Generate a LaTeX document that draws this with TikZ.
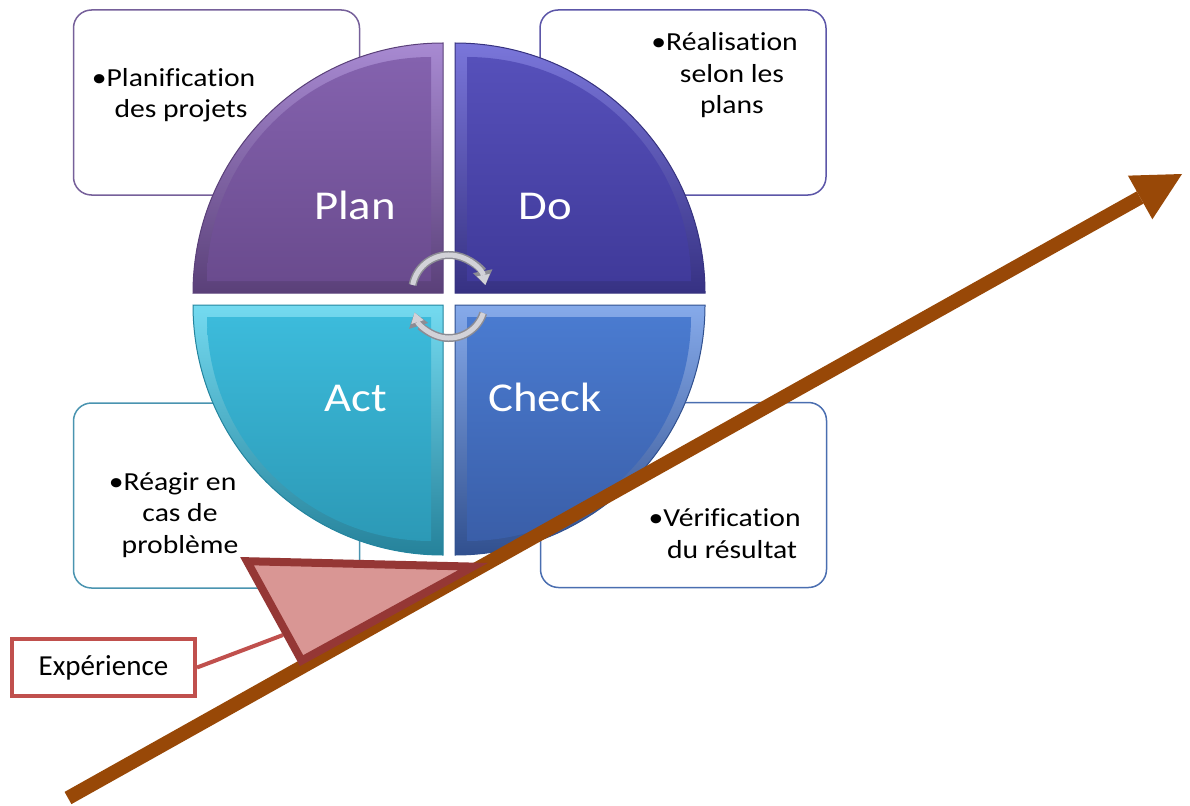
\documentclass[tikz,border=0pt]{standalone}
\usepackage{fontspec}
\setmainfont{Carlito}[Ligatures=NoCommon]
\newfontfamily\smartfont[FakeStretch=1.14,Ligatures=NoCommon]{Carlito}
\usetikzlibrary{arrows.meta}
\definecolor{planbev}{HTML}{A88AD2}
\definecolor{plantop}{HTML}{8462AE}
\definecolor{planbot}{HTML}{6A4B8E}
\definecolor{planout}{HTML}{5A4079}
\definecolor{dobev}{HTML}{7A76DA}
\definecolor{dotop}{HTML}{5650BA}
\definecolor{dobot}{HTML}{403A9A}
\definecolor{doout}{HTML}{36327F}
\definecolor{actbev}{HTML}{74DAF0}
\definecolor{acttop}{HTML}{3CBBDB}
\definecolor{actbot}{HTML}{2C99B6}
\definecolor{actout}{HTML}{23849E}
\definecolor{chkbev}{HTML}{86AAEA}
\definecolor{chktop}{HTML}{4A7BD0}
\definecolor{chkbot}{HTML}{3A5EA8}
\definecolor{chkout}{HTML}{30508F}
\definecolor{bxplan}{HTML}{76609A}
\definecolor{bxdo}{HTML}{5C56A8}
\definecolor{bxact}{HTML}{4A94B0}
\definecolor{bxchk}{HTML}{4A6EB0}
\definecolor{arrbrown}{HTML}{984807}
\definecolor{expred}{HTML}{C0504D}
\definecolor{wedgefill}{HTML}{D99694}
\definecolor{wedgeline}{HTML}{953735}
\definecolor{cycdark}{HTML}{8C8C94}
\definecolor{cyclight}{HTML}{D2D2D8}
\begin{document}
\begin{tikzpicture}[x=1pt,y=-1pt,
  infobox/.style={draw=#1, line width=1.5pt, rounded corners=18pt, fill=white,
    inner sep=0pt, minimum width=286pt, minimum height=185pt},
  boxtext/.style={font=\smartfont\fontsize{26}{31.5}\selectfont, align=center,
    inner sep=0pt, anchor=base},
  biglabel/.style={font=\smartfont\fontsize{41}{44}\selectfont, text=white,
    inner sep=0pt, anchor=base},
  expbox/.style={draw=expred, line width=4pt, fill=white, minimum width=183pt,
    minimum height=57pt, inner sep=0pt, font=\fontsize{29}{34}\selectfont},
  exline/.style={draw=expred, line width=4pt},
  bigarrow/.style={draw=arrbrown, line width=14pt,
    -{Triangle[length=48pt,width=50pt,line width=0pt]}},
  wedgeshape/.style={draw=wedgeline, fill=wedgefill, line width=8pt},
  cycout/.style={draw=cycdark, line width=8pt,
    -{Triangle[length=14pt,width=20pt,line width=0pt]}},
  cycin/.style={draw=cyclight, line width=5pt,
    -{Triangle[length=10pt,width=13pt,line width=0pt]}}
]
\useasboundingbox (0,0) rectangle (1190,805);

% text boxes
\node[infobox=bxplan] (bPlan) at (216.5,102.5) {};
\node[infobox=bxdo] (bDo) at (683,102.5) {};
\node[infobox=bxact] (bAct) at (216.5,495.5) {};
\node[infobox=bxchk] (bCheck) at (683.5,495) {};

\node[boxtext] (tPlan) at (181,118) {\llap{•}Planification\\des projets};
\node[boxtext] (tDo) at (732,114) {\llap{•}Réalisation\\selon les\\plans};
\node[boxtext] (tAct) at (180,553) {\llap{•}Réagir en\\cas de\\problème};
\node[boxtext] (tCheck) at (732,558) {\llap{•}Vérification\\du résultat};

% quadrants
\path[top color=planbev, bottom color=planbot!85!black, draw=planout, line width=1pt]
  (443,293) -- ++(-250,0) arc[start angle=180,end angle=270,radius=250] -- cycle;
\path[top color=plantop, bottom color=planbot]
  (431,281) -- ++(-224,0) arc[start angle=180,end angle=270,radius=224] -- cycle;

\path[top color=dobev, bottom color=dobot!85!black, draw=doout, line width=1pt]
  (455,293) -- ++(0,-250) arc[start angle=270,end angle=360,radius=250] -- cycle;
\path[top color=dotop, bottom color=dobot]
  (467,281) -- ++(0,-224) arc[start angle=270,end angle=360,radius=224] -- cycle;

\path[top color=chkbev, bottom color=chkbot!85!black, draw=chkout, line width=1pt]
  (455,305) -- ++(250,0) arc[start angle=0,end angle=90,radius=250] -- cycle;
\path[top color=chktop, bottom color=chkbot]
  (467,317) -- ++(224,0) arc[start angle=0,end angle=90,radius=224] -- cycle;

\path[top color=actbev, bottom color=actbot!85!black, draw=actout, line width=1pt]
  (443,305) -- ++(0,250) arc[start angle=90,end angle=180,radius=250] -- cycle;
\path[top color=acttop, bottom color=actbot]
  (431,317) -- ++(0,224) arc[start angle=90,end angle=180,radius=224] -- cycle;

\node[biglabel] (lPlan) at (355,219) {Plan};
\node[biglabel] (lDo) at (545,219) {Do};
\node[biglabel] (lAct) at (356,411) {Act};
\node[biglabel] (lCheck) at (545,411) {Check};

% cycle arrows
\coordinate (cTop) at (449,292);
\coordinate (cBot) at (449,302);
\draw[cycout] (cTop) ++(191:37) arc[start angle=191,end angle=349,radius=37];
\draw[cycin] (cTop) ++(191:37) arc[start angle=191,end angle=349,radius=37];
\draw[cycout] (cBot) ++(18:36) arc[start angle=18,end angle=163,radius=36];
\draw[cycin] (cBot) ++(18:36) arc[start angle=18,end angle=163,radius=36];

% experience
\node[expbox] (exp) at (103.5,667.5) {Expérience};
\coordinate (expEnd) at (283,635);
\draw[exline] (exp.east) -- (expEnd);

% big arrow
\coordinate (arrS) at (68,798);
\coordinate (arrE) at (1182,174);
\draw[bigarrow] (arrS) -- (arrE);

% wedge
\draw[wedgeshape] (247,561.2) -- (473,566.6) -- (301.6,660.6) -- cycle;
\end{tikzpicture}
\end{document}
